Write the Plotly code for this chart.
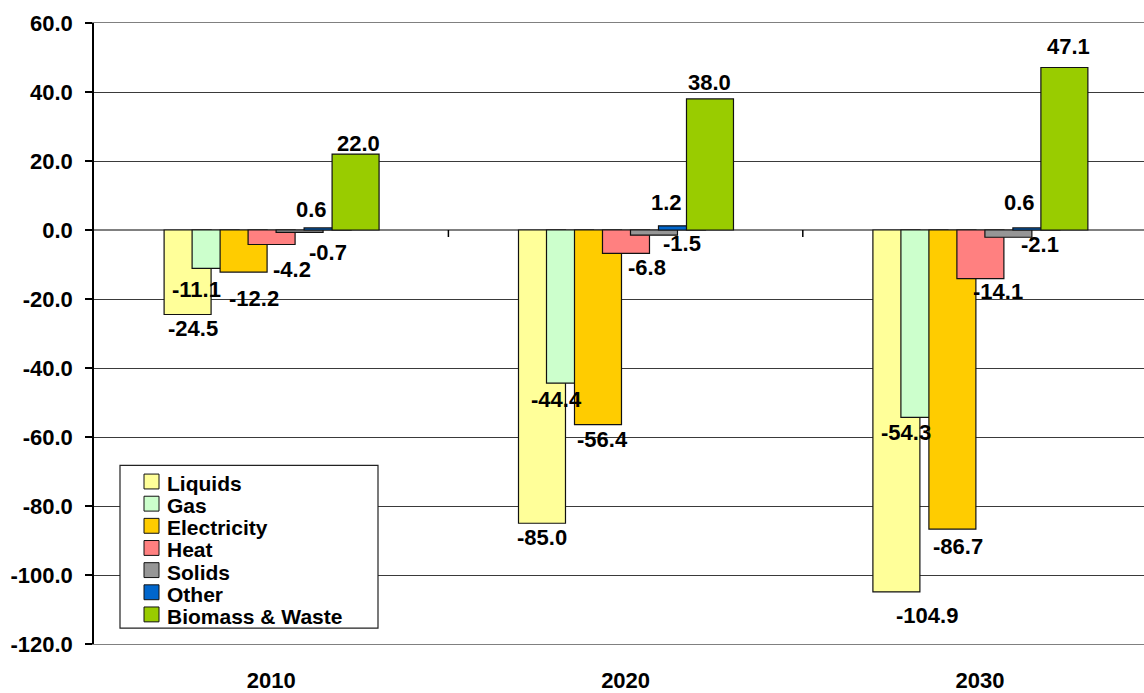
import plotly.graph_objects as go

# Change in final energy demand by carrier, per scenario year
years = ["2010", "2020", "2030"]
series_names = ["Liquids", "Gas", "Electricity", "Heat", "Solids", "Other", "Biomass & Waste"]
liquids = [-24.5, -85.0, -104.9]
gas = [-11.1, -44.4, -54.3]
electricity = [-12.2, -56.4, -86.7]
heat = [-4.2, -6.8, -14.1]
solids = [-0.7, -1.5, -2.1]
other = [0.6, 1.2, 0.6]
biomass_waste = [22.0, 38.0, 47.1]
series_values = [liquids, gas, electricity, heat, solids, other, biomass_waste]

y_ticks = [-120, -100, -80, -60, -40, -20, 0, 20, 40, 60]

# Styling
colors = ["#FFFF99", "#CCFFCC", "#FFCC00", "#FF8080", "#969696", "#0066CC", "#99CC00"]
FONT = "Liberation Sans, Arial, sans-serif"
FS = 22

# Overlapping clustered bars (in category units)
bar_w = 0.1326
bar_step = 0.0790
first_off = -0.3022

# Per-label nudges (pixels) so labels sit clear of neighbouring bars
label_dx = [
    [5, 0, 31],
    [-19, -13, -18],
    [10, 5, 6],
    [20, 21, 18],
    [28, 28, 32],
    [-16, -15, -17],
    [3, 0, 4],
]
label_dy = [
    [-14, -14, -24],
    [-21, -16, -15],
    [-26, -15, -17],
    [-25, -14, -13],
    [-20, -8, -7],
    [18, 23, 25],
    [11, 16, 21],
]

# Plot geometry in pixels
W, H = 1144, 693
M_L, M_R, M_T, M_B = 94, 0, 23, 44
plot_w = W - M_L - M_R
plot_h = H - M_T - M_B
px_per_cat = 354.4
x_range = [-0.5, -0.5 + plot_w / px_per_cat]


def px_x(px):
    return (px - M_L) / plot_w


def px_y(py):
    return (H - M_B - py) / plot_h


xs = list(range(len(years)))
fig = go.Figure()
annotations = []
for i, (name, vals) in enumerate(zip(series_names, series_values)):
    off = first_off + i * bar_step
    fig.add_trace(go.Bar(
        x=xs, y=vals, name=name,
        offset=off, width=bar_w,
        marker=dict(color=colors[i], line=dict(color="#111111", width=1.2)),
        showlegend=False,
    ))
    for c, v in enumerate(vals):
        annotations.append(dict(
            x=c + off + bar_w / 2, y=v, xref="x", yref="y",
            text=f"{v:.1f}", showarrow=False,
            xanchor="center", yanchor="middle",
            xshift=label_dx[i][c], yshift=label_dy[i][c],
            font=dict(family=FONT, size=FS, color="black", weight="bold"),
        ))

shapes = []
# category separator ticks on the zero line
for b in [0.5, 1.5]:
    shapes.append(dict(type="line", xref="x", yref="y", x0=b, x1=b,
                       ysizemode="pixel", yanchor=0, y0=0, y1=-7,
                       line=dict(color="black", width=1.5)))

# Legend box drawn inside the plot area
box_l, box_r, box_t, box_b = 120, 378, 469, 633
shapes.append(dict(type="rect", xref="paper", yref="paper",
                   x0=px_x(box_l), x1=px_x(box_r), y0=px_y(box_b), y1=px_y(box_t),
                   fillcolor="white", line=dict(color="#222222", width=1.2), layer="above"))
row_top0, row_step, sw = 477.7, 22.33, 15
legend_fs = 21
for k, name in enumerate(series_names):
    top = row_top0 + k * row_step
    shapes.append(dict(type="rect", xref="paper", yref="paper",
                       x0=px_x(144), x1=px_x(144 + sw), y0=px_y(top + sw), y1=px_y(top),
                       fillcolor=colors[k], line=dict(color="#111111", width=1), layer="above"))
    annotations.append(dict(
        x=px_x(165), y=px_y(top + sw / 2), xref="paper", yref="paper",
        text=name, showarrow=False, xanchor="left", yanchor="middle", yshift=-2,
        font=dict(family=FONT, size=legend_fs, color="black", weight="bold"),
    ))

fig.update_layout(
    width=W, height=H,
    margin=dict(l=M_L, r=M_R, t=M_T, b=M_B, pad=0),
    barmode="overlay",
    plot_bgcolor="white", paper_bgcolor="white",
    font=dict(family=FONT, size=FS, color="black"),
    annotations=annotations,
    shapes=shapes,
    xaxis=dict(
        range=x_range, tickmode="array", tickvals=xs, ticktext=years,
        showgrid=False, zeroline=False, ticks="",
        showline=True, mirror=True, linecolor="#808080", linewidth=1,
        tickfont=dict(family=FONT, size=FS, color="black", weight="bold"),
        ticklabelstandoff=17,
    ),
    yaxis=dict(
        range=[-120, 60], tickmode="array", tickvals=y_ticks,
        ticktext=[f"{v:.1f}" for v in y_ticks],
        showgrid=True, gridcolor="#3a3a3a", gridwidth=1,
        zeroline=True, zerolinecolor="#808080", zerolinewidth=1.5,
        showline=True, linecolor="black", linewidth=1.5,
        ticks="outside", ticklen=7, tickcolor="black", tickwidth=1.5,
        ticklabelstandoff=8,
        tickfont=dict(family=FONT, size=FS, color="black", weight="bold"),
    ),
)

fig.write_html("out.html")
